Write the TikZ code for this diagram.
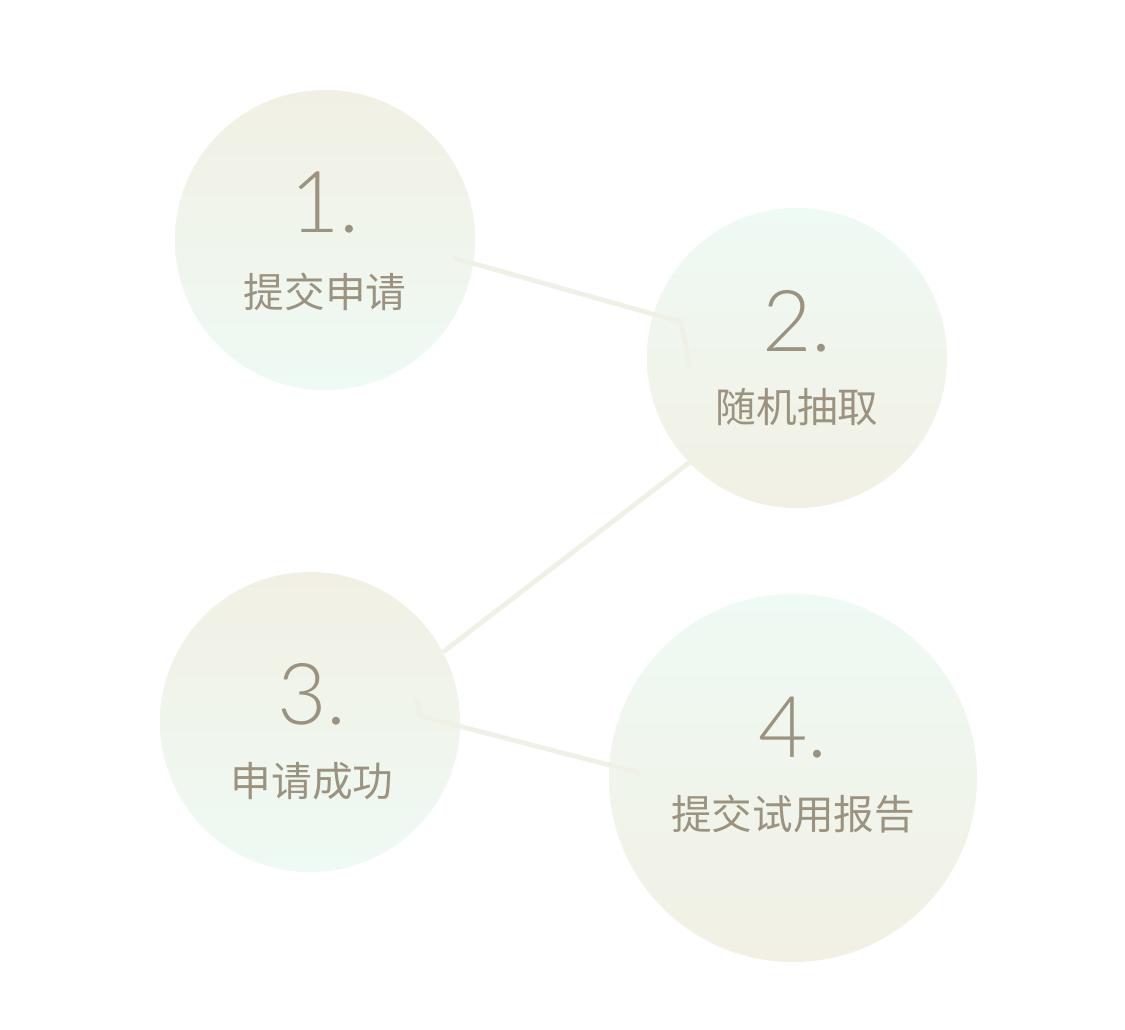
\documentclass[tikz,border=0pt]{standalone}
\usepackage{fontspec}
\setmainfont{Noto Sans CJK SC}
\newfontfamily\numfont{Lato Light}
\begin{document}
\begin{tikzpicture}[x=0.75pt,y=-0.75pt,
  bubble/.style={circle,inner sep=0pt,draw=none},
  beigetop/.style={top color=beigec,bottom color=mintc},
  minttop/.style={top color=mintc,bottom color=beigec},
  num/.style={anchor=base,text=txtc,font=\numfont\fontsize{64}{64}\selectfont},
  lbl/.style={anchor=base,text=txtc,font=\fontsize{30.5}{31}\selectfont},
  link/.style={draw=linec,line width=3.6pt,line join=round}]
\definecolor{beigec}{HTML}{F2F0E4}
\definecolor{mintc}{HTML}{EEFAF4}
\definecolor{txtc}{HTML}{9B9380}
\definecolor{linec}{HTML}{F0F1E6}
\useasboundingbox[fill=white] (0,0) rectangle (1125,1029);
% circles
\node[bubble,beigetop,minimum size=300*0.75pt] (c1) at (325,240) {};
\node[bubble,minttop,minimum size=300*0.75pt] (c2) at (797,358) {};
\node[bubble,beigetop,minimum size=300*0.75pt] (c3) at (310,722) {};
\node[bubble,minttop,minimum size=368*0.75pt] (c4) at (793,778) {};
% connector points
\coordinate (a1) at (454,258);
\coordinate (a2) at (681,322);
\coordinate (a3) at (690,368);
\coordinate (b1) at (690,462);
\coordinate (b2) at (443,652);
\coordinate (d0) at (417,698);
\coordinate (d1) at (420,716);
\coordinate (d2) at (640,773);
\draw[link] (a1) -- (a2) -- (a3);
\draw[link] (b1) -- (b2);
\draw[link] (d0) -- (d1) -- (d2);
% texts
\node[num] (n1) at (325,232) {1.};
\node[lbl] (l1) at (325,307) {提交申请};
\node[num] (n2) at (797,351) {2.};
\node[lbl] (l2) at (797,422) {随机抽取};
\node[num] (n3) at (312,724) {3.};
\node[lbl] (l3) at (312,796) {申请成功};
\node[num] (n4) at (793,757) {4.};
\node[lbl] (l4) at (793,829) {提交试用报告};
\end{tikzpicture}
\end{document}
